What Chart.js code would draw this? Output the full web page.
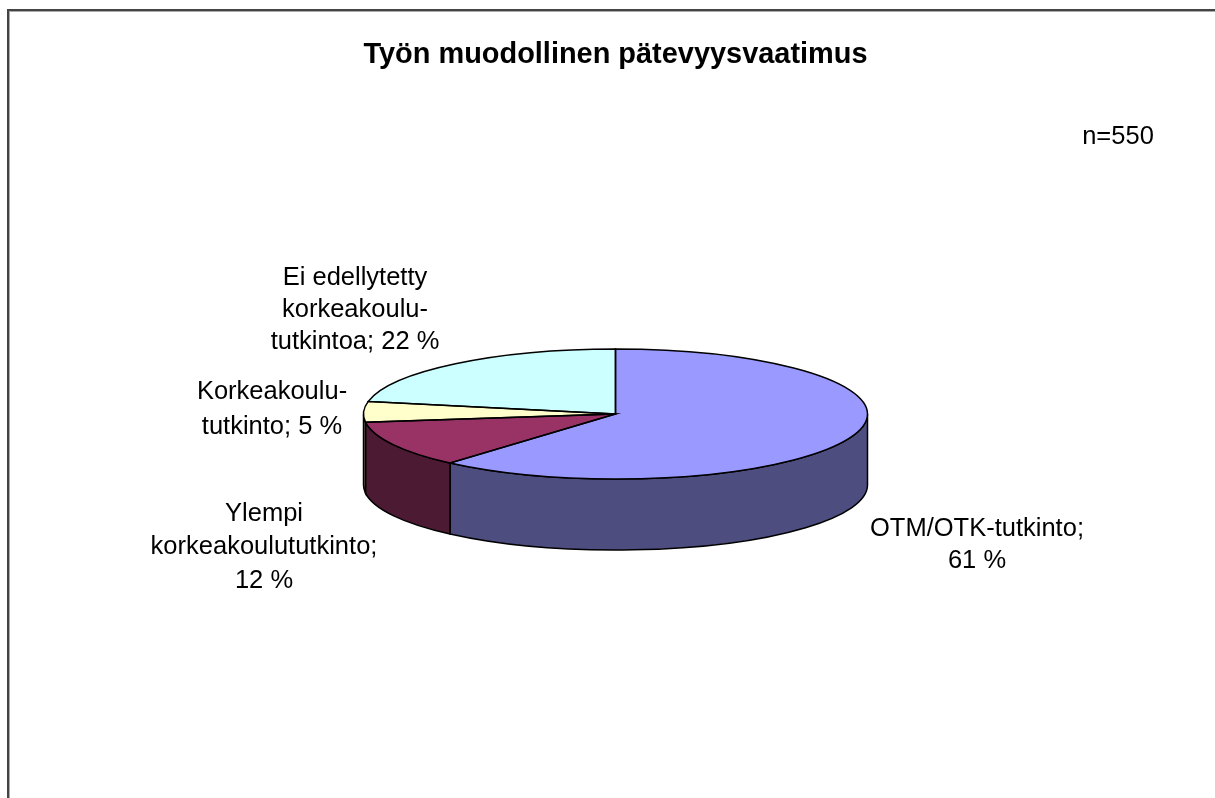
<!doctype html>
<html>
  <head>
    <meta charset="utf-8" />
    <script src="https://cdn.jsdelivr.net/npm/chart.js"></script>
    <style>
      html, body { margin: 0; background: #fff; }
      #wrap { position: relative; width: 1215px; height: 798px; overflow: hidden; }
      #frame {
        position: absolute; left: 7px; top: 9px; width: 1300px; height: 900px;
        border: 2px solid #444; box-sizing: border-box;
        box-shadow: inset 1px 1px 0 #aaa;
      }
      canvas { position: absolute; left: 0; top: 0; }
    </style>
  </head>
  <body>
    <div id="wrap">
      <div id="frame"></div>
      <canvas id="pie" width="1215" height="798"></canvas>
    </div>
    <script>
      const chartTitle = "Työn muodollinen pätevyysvaatimus";
      const note = "n=550";
      const categories = [
        "OTM/OTK-tutkinto",
        "Ylempi korkeakoulututkinto",
        "Korkeakoulututkinto",
        "Ei edellytetty korkeakoulututkintoa",
      ];
      const values = [61.4, 11.6, 5.1, 21.9];
      const topColors = ["#9999FF", "#993366", "#FFFFCC", "#CCFFFF"];
      const wallColors = ["#4D4D80", "#4D1A33", "#808066", "#668080"];
      const labelLines = [
        ["OTM/OTK-tutkinto;", "61 %"],
        ["Ylempi", "korkeakoulututkinto;", "12 %"],
        ["Korkeakoulu-", "tutkinto; 5 %"],
        ["Ei edellytetty", "korkeakoulu-", "tutkintoa; 22 %"],
      ];

      // where the label blocks sit (centre x, first baseline, line step)
      const labelPlace = [
        { x: 977, y: 536, step: 32 },
        { x: 264, y: 520.5, step: 33.5 },
        { x: 272, y: 399, step: 35 },
        { x: 355, y: 285, step: 32 },
      ];

      const squash = 65 / 252; // tilt of the pie
      const depth = 71;
      const labelFont = "25.5px 'Liberation Sans', Arial, sans-serif";

      const tilted = {
        id: "tilted",
        beforeDatasetsDraw(chart) {
          const ctx = chart.ctx;
          const arcs = chart.getDatasetMeta(0).data;
          const cx = arcs[0].x;
          const cy = arcs[0].y;
          const r = arcs[0].outerRadius;

          // front walls, only the part of each slice facing the viewer
          ctx.save();
          ctx.strokeStyle = "#000";
          ctx.lineWidth = 1.5;
          arcs.forEach((a, i) => {
            const from = Math.max(a.startAngle, 0);
            const to = Math.min(a.endAngle, Math.PI);
            if (to <= from) return;
            ctx.beginPath();
            ctx.ellipse(cx, cy, r, r * squash, 0, from, to);
            ctx.ellipse(cx, cy + depth, r, r * squash, 0, to, from, true);
            ctx.closePath();
            ctx.fillStyle = wallColors[i];
            ctx.fill();
            ctx.stroke();
          });
          ctx.restore();

          // the library's arcs get drawn flattened
          ctx.save();
          ctx.translate(cx, cy);
          ctx.scale(1, squash);
          ctx.translate(-cx, -cy);
        },
        afterDatasetsDraw(chart) {
          const ctx = chart.ctx;
          ctx.restore();

          // outlines after the transform so the line stays even
          ctx.save();
          ctx.strokeStyle = "#000";
          ctx.lineWidth = 1.5;
          chart.getDatasetMeta(0).data.forEach((a) => {
            ctx.beginPath();
            ctx.moveTo(a.x, a.y);
            ctx.ellipse(a.x, a.y, a.outerRadius, a.outerRadius * squash, 0, a.startAngle, a.endAngle);
            ctx.closePath();
            ctx.stroke();
          });
          ctx.restore();

          ctx.save();
          ctx.font = labelFont;
          ctx.fillStyle = "#000";
          ctx.textAlign = "center";
          labelLines.forEach((lines, i) => {
            const p = labelPlace[i];
            lines.forEach((line, j) => ctx.fillText(line, p.x, p.y + j * p.step));
          });
          ctx.fillText(note, 1118, 144);
          ctx.restore();
        },
      };

      new Chart(document.getElementById("pie"), {
        type: "pie",
        data: {
          labels: categories,
          datasets: [
            {
              data: values,
              backgroundColor: topColors,
              borderWidth: 0,
            },
          ],
        },
        options: {
          responsive: false,
          animation: false,
          layout: { padding: { left: 363.5, right: 347.5, top: 0, bottom: 132 } },
          plugins: {
            legend: { display: false },
            tooltip: { enabled: false },
            title: {
              display: true,
              text: chartTitle,
              fullSize: false,
              color: "#000",
              font: { family: "'Liberation Sans', Arial, sans-serif", size: 29, weight: "bold", lineHeight: 1.2 },
              padding: { top: 38, bottom: 89.2 },
            },
          },
        },
        plugins: [tilted],
      });
    </script>
  </body>
</html>
